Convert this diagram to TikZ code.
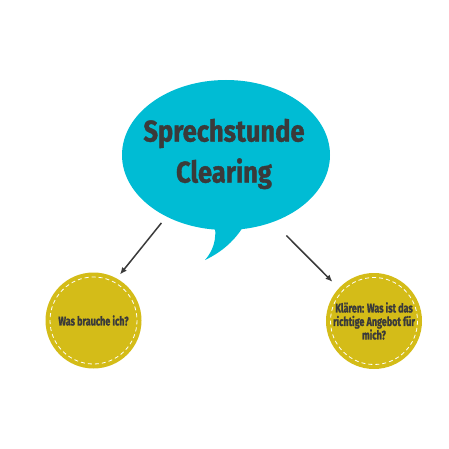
\documentclass[tikz,border=0pt]{standalone}
\usepackage{fontspec}
\setmainfont{Fira Sans}[FakeStretch=0.85,BoldFeatures={FakeBold=1.2}]
\newfontfamily\topicfont{Fira Sans}[FakeStretch=0.72,BoldFeatures={FakeBold=1.2}]
\usetikzlibrary{shapes.geometric,arrows.meta}
\definecolor{bubblecyan}{RGB}{0,188,212}
\definecolor{mustard}{RGB}{212,188,24}
\definecolor{inkgray}{RGB}{58,58,58}

\begin{document}
\begin{tikzpicture}[x=1pt,y=-1pt,
    every node/.style = {text=inkgray},
    topic/.style = {circle,fill=mustard,minimum size=96pt,inner sep=0pt,align=center,
      font=\topicfont\bfseries\fontsize{12.5}{13.5}\selectfont},
    stitch/.style = {draw=white,dashed,dash pattern=on 4pt off 3pt,line width=0.8pt},
    link/.style = {draw=inkgray,line width=1.5pt,-{Latex[length=7pt,width=6pt]}}]
    \useasboundingbox (0,0) rectangle (449,449);
    % speech bubble
    \node[ellipse,fill=bubblecyan,minimum width=208pt,minimum height=150pt] (bubble) at (226,155) {};
    \fill[bubblecyan] (214,222) .. controls (218,240) and (212,252) .. (205,260)
        .. controls (222,252) and (236,240) .. (246,222) -- cycle;
    \node[font=\bfseries\fontsize{30}{41}\selectfont,align=center] (title) at (224,154) {Sprechstunde\\Clearing};
    % topics
    \node[topic] (need) at (93.5,320.5) {Was brauche ich?};
    \node[topic] (offer) at (374,321) {Klären: Was ist das\\richtige Angebot für\\mich?};
    \draw[stitch] (need.center) circle (43.5);
    \draw[stitch] (offer.center) circle (43.5);
    \draw[link,shorten <=8pt,shorten >=5pt] (bubble.-134) -- (need.61);
    \draw[link,shorten <=19pt,shorten >=9pt] (bubble.-55) -- (offer.137);
\end{tikzpicture}
\end{document}
